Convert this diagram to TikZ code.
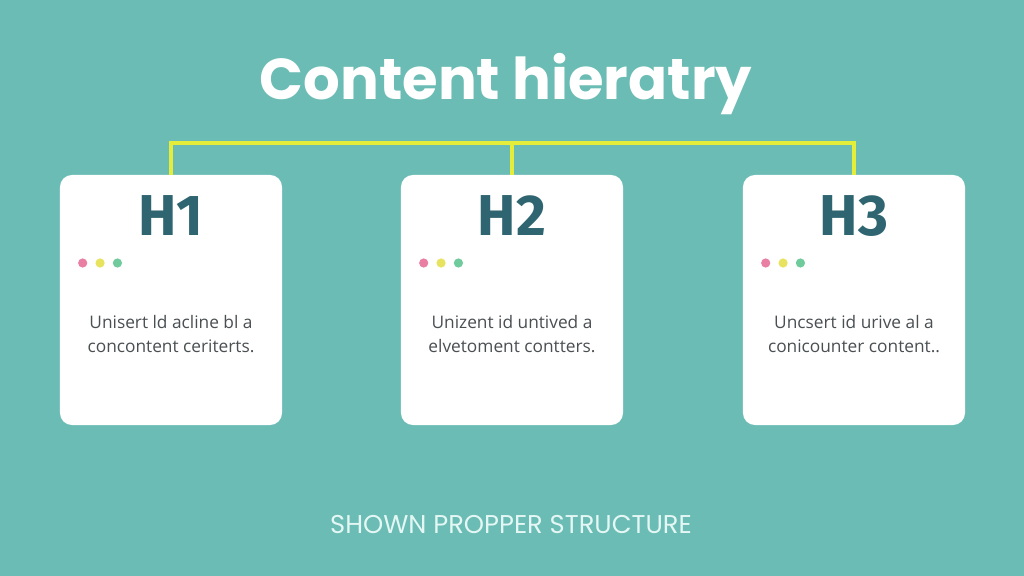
\documentclass[tikz,border=0pt]{standalone}
\usepackage{fontspec}
\setmainfont{Open Sans}
\newfontfamily\titlefont{Poppins}
\newfontfamily\headfont{Fira Sans}
\usetikzlibrary{positioning,calc}

\definecolor{sfondo}{HTML}{6ABCB4}
\definecolor{giallo}{HTML}{E4EE3A}
\definecolor{petrolio}{HTML}{2F6570}
\definecolor{rosa}{HTML}{E97FA3}
\definecolor{ocra}{HTML}{E8E35E}
\definecolor{verde}{HTML}{6FCB9C}
\definecolor{grigio}{HTML}{4A4F52}
\definecolor{chiaro}{HTML}{E4F7F4}

\tikzset{
  scheda/.style={fill=white, rounded corners=0.3cm, minimum width=5.55cm, minimum height=6.25cm, inner sep=0pt},
  livello/.style={anchor=base, text=petrolio, font=\headfont\bfseries\fontsize{41}{44}\selectfont},
  corpo/.style={align=center, text=grigio, font=\fontsize{12.3}{17}\selectfont},
  puntino/.style={circle, inner sep=0pt, minimum size=0.23cm},
  connettore/.style={giallo, line width=0.1cm}
}

\begin{document}
\begin{tikzpicture}[x=0.025cm, y=-0.025cm]
    % Sfondo
    \fill[sfondo] (0,0) rectangle (1024,576);
    \useasboundingbox (0,0) rectangle (1024,576);

    % Titolo
    \node[anchor=base, text=white, font=\titlefont\bfseries\fontsize{41}{46}\selectfont] (titolo) at (506,100) {Content hieratry};

    % Schede
    \node[scheda] (c1) at (171,300) {};
    \node[scheda] (c2) at (512,300) {};
    \node[scheda] (c3) at (854,300) {};

    % Linee gialle
    \coordinate (barra) at (512,143);
    \draw[connettore] (c1.north) |- (barra) -| (c3.north);
    \draw[connettore] (c2.north) -- (barra);

    % Intestazioni
    \node[livello] (h1) at (171,236) {H1};
    \node[livello] (h2) at (512,236) {H2};
    \node[livello] (h3) at (854,236) {H3};

    % Puntini colorati
    \foreach \c in {1,2,3} {
        \node[puntino, fill=rosa] (p\c a) at ($(c\c.west)+(23,-37)$) {};
        \node[puntino, fill=ocra, right=0.19cm of p\c a] (p\c b) {};
        \node[puntino, fill=verde, right=0.19cm of p\c b] (p\c c) {};
    }

    % Testi
    \node[corpo] (t1) at (171,334) {Unisert ld acline bl a\\concontent ceriterts.};
    \node[corpo] (t2) at (512,334) {Unizent id untived a\\elvetoment contters.};
    \node[corpo] (t3) at (854,334) {Uncsert id urive al a\\conicounter content..};

    % Sottotitolo
    \node[anchor=base, text=chiaro, font=\titlefont\fontsize{18.3}{21}\selectfont] (sotto) at (511,533) {SHOWN PROPPER STRUCTURE};
\end{tikzpicture}
\end{document}
